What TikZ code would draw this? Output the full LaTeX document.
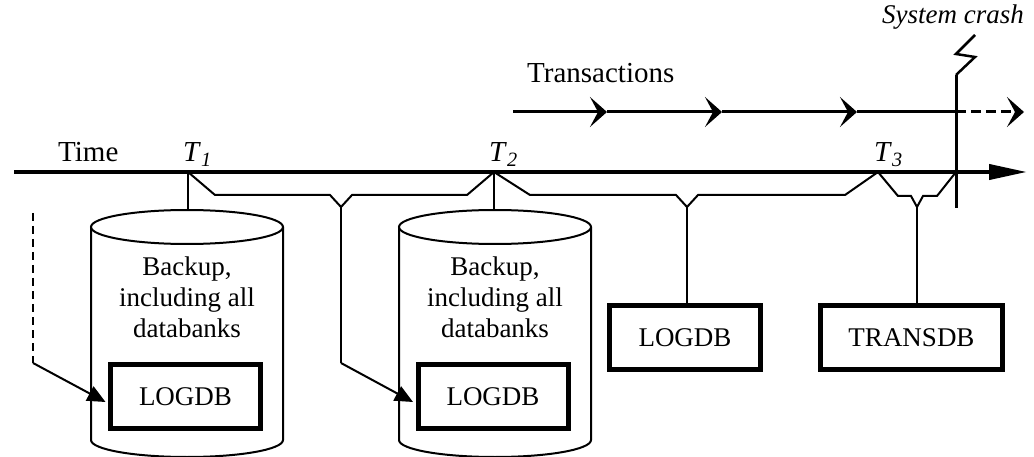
\documentclass[tikz,border=0pt]{standalone}
\usepackage{fontspec}
\setmainfont{Liberation Serif}
\usetikzlibrary{arrows.meta,calc}

\tikzset{
  txt/.style={font=\fontsize{27}{31}\selectfont, inner sep=0pt},
  lbl/.style={font=\fontsize{29}{33}\selectfont, inner sep=0pt, anchor=base west},
  thinline/.style={line width=2pt, line join=miter},
  axis/.style={line width=4pt, -{Triangle[length=38pt,width=15pt]}},
  trline/.style={line width=3pt},
  trarrow/.style={trline, -{Stealth[length=17pt,width=30pt,inset=8pt]}},
  cylwall/.style={line width=2pt, fill=white},
  dbbox/.style={draw, line width=5pt, fill=white, minimum height=64pt,
                inner sep=0pt, font=\fontsize{27}{31}\selectfont},
  feed/.style={thinline, -{Triangle[length=18pt,width=16pt]}},
  crash/.style={line width=3pt},
}

\begin{document}
\begin{tikzpicture}[x=1pt,y=-1pt]
\useasboundingbox (0,0) rectangle (1034,457);

% time axis with checkpoints
\coordinate (tstart) at (14,172);
\coordinate (tend)   at (1027,172);
\coordinate (T1) at (188,172);
\coordinate (T2) at (494,172);
\coordinate (T3) at (878,172);
\coordinate (X)  at (956,172);
\draw[axis] (tstart) -- (tend);

\node[lbl] (timelbl) at (58,162) {Time};
\node[lbl] (t1lbl) at (183,162) {\textit{T}\textsubscript{\textit{1}}};
\node[lbl] (t2lbl) at (489,162) {\textit{T}\textsubscript{\textit{2}}};
\node[lbl] (t3lbl) at (874,162) {\textit{T}\textsubscript{\textit{3}}};

% transactions
\node[lbl] (trlbl) at (527,83) {Transactions};
\coordinate (tr0) at (513,112);
\coordinate (tr1) at (607,112);
\coordinate (tr2) at (722,112);
\coordinate (tr3) at (857,112);
\coordinate (trX) at (956,112);
\coordinate (tr4) at (1024,112);
\draw[trarrow] (tr0) -- (tr1);
\draw[trarrow] (tr1) -- (tr2);
\draw[trarrow] (tr2) -- (tr3);
\draw[trline] (tr3) -- (trX);
\draw[trarrow, dash pattern=on 10pt off 5pt] (trX) -- (tr4);

% system crash marker
\node[lbl, font=\fontsize{27}{31}\selectfont\itshape] (crashlbl) at (882,24) {System crash};
\coordinate (cbot) at (956,208);
\coordinate (ctop) at (956,75);
\draw[crash] (cbot) -- (ctop);
\draw[line width=2.5pt] (ctop) -- (975,57) -- (956,54) -- (975,35);

% backup cylinders
\foreach \cx in {187,495} {
  \draw[cylwall] (\cx-96,227) -- (\cx-96,440)
     arc[start angle=180,end angle=0,x radius=96,y radius=17] -- (\cx+96,227);
  \draw[cylwall] (\cx,227) ellipse[x radius=96,y radius=17];
}
\coordinate (cylAtop) at (188,210);
\coordinate (cylBtop) at (494,210);
\node[txt, align=center] (bkA) at (187,297) {Backup,\\including all\\databanks};
\node[txt, align=center] (bkB) at (495,297) {Backup,\\including all\\databanks};

% log and transaction databanks
\node[dbbox, minimum width=150pt] (logA) at (185.5,396.5) {LOGDB};
\node[dbbox, minimum width=150pt] (logB) at (493,396.5) {LOGDB};
\node[dbbox, minimum width=151pt] (logC) at (685,337.5) {LOGDB};
\node[dbbox, minimum width=182pt] (trans) at (911.5,337.5) {TRANSDB};

% branches from the checkpoints
\coordinate (yA) at (341,207);
\coordinate (yB) at (687,207);
\coordinate (yC) at (917,207);
\draw[thinline] (T1) -- (cylAtop);
\draw[thinline] (T2) -- (cylBtop);
\draw[thinline] (T1) -- (215,195) -- (330,195) -- (yA) -- (352,195) -- (467,195) -- (T2);
\draw[thinline] (T2) -- (530,195) -- (676,195) -- (yB) -- (698,195) -- (845,195) -- (T3);
\draw[thinline] (T3) -- (898,196) -- (911,196) -- (yC) -- (923,196) -- (937,196) -- (X);
\draw[thinline] (yB) -- (yB |- logC.north);
\draw[thinline] (yC) -- (yC |- trans.north);

% feeds into the log copies
\coordinate (dA) at (33,213);
\coordinate (bA) at (33,363);
\coordinate (bB) at (341,363);
\draw[thinline, dash pattern=on 8pt off 5pt] (dA) -- (bA);
\draw[feed] (bA) -- ($(logA.west)+(-2.5,5.5)$);
\draw[thinline] (yA) -- (bB);
\draw[feed] (bB) -- ($(logB.west)+(-2.5,5.5)$);
\end{tikzpicture}
\end{document}
